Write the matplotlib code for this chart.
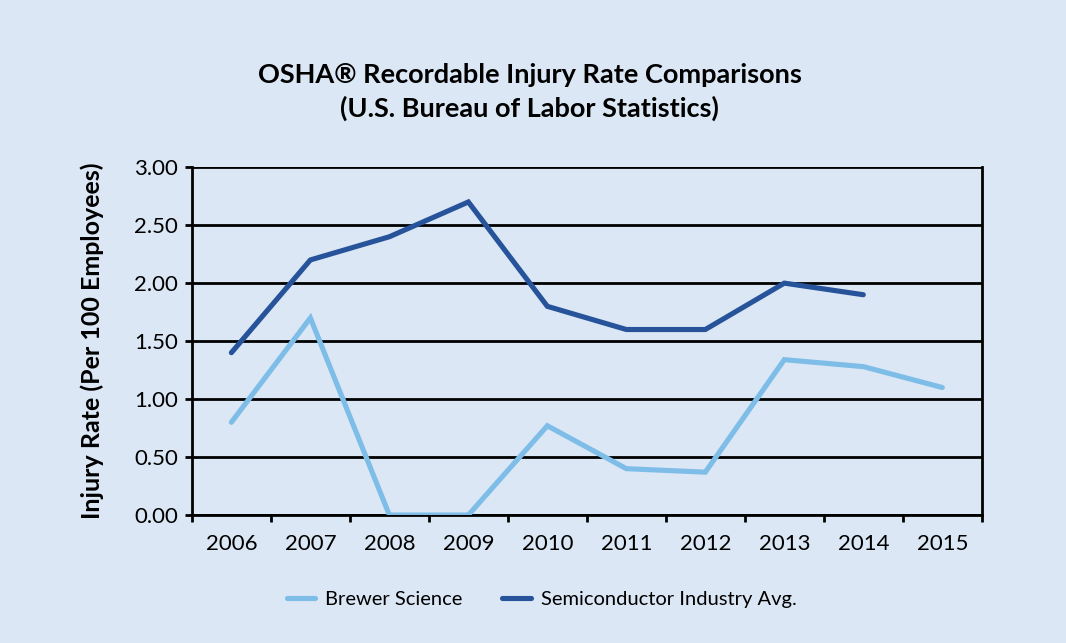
import matplotlib
matplotlib.use("Agg")
import matplotlib.pyplot as plt
import numpy as np

years = ["2006", "2007", "2008", "2009", "2010", "2011", "2012", "2013", "2014", "2015"]
brewer = [0.80, 1.70, 0.0, 0.0, 0.77, 0.40, 0.37, 1.34, 1.28, 1.10]
semi_years = ["2006", "2007", "2008", "2009", "2010", "2011", "2012", "2013", "2014"]
semi = [1.40, 2.20, 2.40, 2.70, 1.80, 1.60, 1.60, 2.00, 1.90]
yticks = [0.0, 0.5, 1.0, 1.5, 2.0, 2.5, 3.0]

plt.rcParams['font.family'] = ['Lato', 'DejaVu Sans']
bg = "#dbe7f4"
light = "#7dbde8"
dark = "#27539a"

fig = plt.figure(figsize=(10.66, 6.43), dpi=100, facecolor=bg)
ax = fig.add_axes([0.18, 0.199, 0.741, 0.541])
ax.set_facecolor(bg)

x = np.arange(len(years))
xs = np.arange(len(semi_years))
ax.plot(x, brewer, color=light, lw=3.7, solid_capstyle='round', solid_joinstyle='miter', label="Brewer Science", zorder=3)
ax.plot(xs, semi, color=dark, lw=3.7, solid_capstyle='round', solid_joinstyle='miter', label="Semiconductor Industry Avg.", zorder=3)

ax.set_xlim(-0.5, len(years) - 0.5)
ax.set_ylim(0, 3.0)
ax.set_yticks(yticks)
ax.set_yticklabels([f"{v:.2f}" for v in yticks])
ax.set_xticks(x)
ax.set_xticklabels(years)
ax.set_xticks(np.arange(-0.5, len(years), 1.0), minor=True)
ax.tick_params(axis='x', which='major', length=0, pad=14, labelsize=16)
ax.tick_params(axis='x', which='minor', length=5, width=2, direction='out')
ax.tick_params(axis='y', length=5, width=2, direction='out', labelsize=16, pad=5)
ax.grid(axis='y', color='black', lw=2, zorder=1)
for s in ax.spines.values():
    s.set_linewidth(2)
    s.set_color('black')
ax.spines['top'].set_visible(False)

ax.set_ylabel("Injury Rate (Per 100 Employees)", fontsize=18, fontweight='bold', labelpad=22)

fig.text(0.497, 0.884, "OSHA® Recordable Injury Rate Comparisons", ha='center', va='center',
         fontsize=19.5, fontweight='bold')
fig.text(0.497, 0.832, "(U.S. Bureau of Labor Statistics)", ha='center', va='center',
         fontsize=19.5, fontweight='bold')

leg = fig.legend(loc='center', bbox_to_anchor=(0.508, 0.067), ncol=2, frameon=False,
                 fontsize=14.5, handlelength=1.4, handletextpad=0.5, columnspacing=2.0)

fig.savefig("out.png", dpi=100, facecolor=bg)
